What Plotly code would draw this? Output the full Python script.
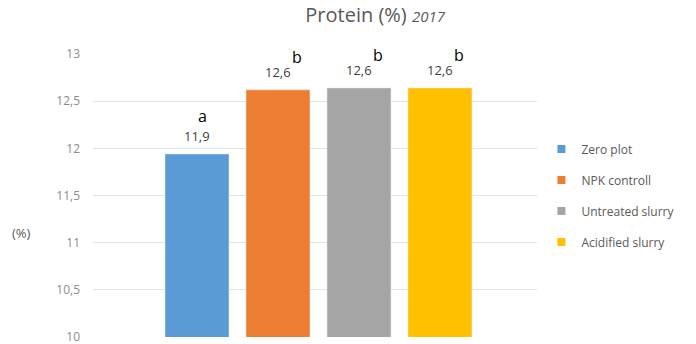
import plotly.graph_objects as go

# Data
treatments = ["Zero plot", "NPK controll", "Untreated slurry", "Acidified slurry"]
protein = [11.94, 12.62, 12.64, 12.64]
value_labels = ["11,9", "12,6", "12,6", "12,6"]
letters = ["a", "b", "b", "b"]
colors = ["#5B9BD5", "#ED7D31", "#A5A5A5", "#FFC000"]
letter_shift = [6, 19, 19, 19]
letter_lift = [38, 33, 33, 33]

fig = go.Figure()
for i, (name, val) in enumerate(zip(treatments, protein)):
    fig.add_trace(go.Bar(
        x=[i], y=[val], name=name,
        marker_color=colors[i], width=0.79,
        showlegend=False, hoverinfo="skip"
    ))
    # small square legend marker, like the Excel legend
    fig.add_trace(go.Scatter(
        x=[None], y=[None], mode="markers", name=name,
        legendgroup=name,
        marker=dict(symbol="square", size=8, color=colors[i])
    ))
    fig.add_annotation(x=i, y=val, text=value_labels[i], showarrow=False,
                       yanchor="middle", yshift=18,
                       font=dict(size=13, color="#404040"))
    fig.add_annotation(x=i, y=val, text=letters[i], showarrow=False,
                       yanchor="middle", yshift=letter_lift[i], xshift=letter_shift[i],
                       font=dict(size=16, color="#000000"))

# y axis title drawn horizontally, like the original
fig.add_annotation(xref="paper", yref="paper", x=-0.16, y=0.33,
                   text="(%)", showarrow=False, xanchor="center",
                   font=dict(size=13, color="#595959"))

fig.update_layout(
    width=696, height=344,
    barmode="overlay",
    separators=",.",
    font=dict(family="Open Sans, Lato, sans-serif", color="#595959"),
    title=dict(text="Protein (%) <i><span style='font-size:15px'>2017</span></i>",
               x=0.539, xanchor="center", y=0.955, yanchor="middle",
               font=dict(size=20, color="#595959")),
    margin=dict(l=93, r=159, t=54, b=7),
    plot_bgcolor="white", paper_bgcolor="white",
    legend=dict(x=1.01, y=0.5, yanchor="middle", xanchor="left",
                font=dict(size=12, color="#595959"),
                itemwidth=30, tracegroupgap=12,
                bgcolor="rgba(0,0,0,0)"),
    showlegend=True,
)

fig.update_xaxes(range=[-1.284, 4.198], showticklabels=False, showgrid=False,
                 zeroline=False, showline=False)
fig.update_yaxes(range=[10, 13], dtick=0.5, showgrid=True, gridcolor="#E3E3E3",
                 gridwidth=1, zeroline=False, showline=False, automargin=False,
                 tickfont=dict(size=12, color="#8C8C8C"), ticks="",
                 ticklabelstandoff=12, ticklabeloverflow="allow")

fig.write_html("out.html", config={"displayModeBar": False},
               post_script="document.body.style.margin='0';")
